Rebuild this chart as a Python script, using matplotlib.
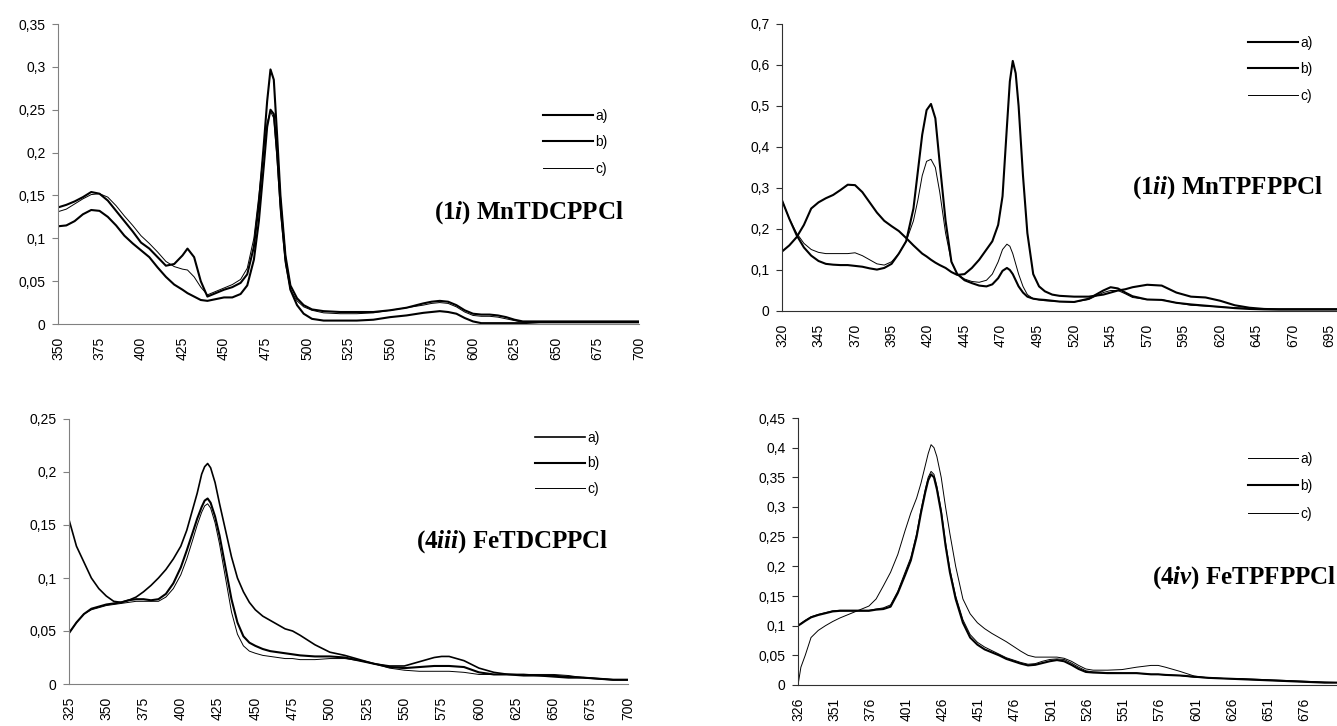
import matplotlib
matplotlib.use("Agg")
import matplotlib.pyplot as plt
from matplotlib.lines import Line2D

plt.rcParams["font.family"] = ["Liberation Sans", "DejaVu Sans"]
plt.rcParams["mathtext.fontset"] = "custom"
plt.rcParams["mathtext.rm"] = "Liberation Serif:bold"
plt.rcParams["mathtext.it"] = "Liberation Serif:italic:bold"

W, H = 1337, 726

# ---- panel 1: (1i) MnTDCPPCl ----
p1_nm = [350, 355, 360, 365, 370, 375, 380, 385, 390, 395, 400, 405, 410, 415, 420, 425,
         428, 432, 436, 440, 445, 450, 455, 460,
         464, 468, 471, 474, 476, 478, 480, 482, 484, 487, 490, 494, 498, 503,
         510, 520, 530, 540, 550, 560, 570,
         575, 580, 585, 590, 595, 600, 605, 610, 615, 620, 625, 630,
         640, 650, 660, 670, 680, 690, 700]
p1_a = [0.136, 0.139, 0.143, 0.148, 0.154, 0.152, 0.144, 0.132, 0.12, 0.108, 0.095, 0.088, 0.078, 0.068, 0.07, 0.08,
        0.088, 0.078, 0.05, 0.032, 0.036, 0.04, 0.043, 0.048,
        0.058, 0.09, 0.14, 0.21, 0.26, 0.297, 0.285, 0.22, 0.15, 0.08, 0.045, 0.03, 0.022, 0.017,
        0.015, 0.014, 0.014, 0.014, 0.016, 0.019, 0.024,
        0.026, 0.027, 0.026, 0.022, 0.016, 0.012, 0.011, 0.011, 0.01, 0.008, 0.005, 0.003,
        0.003, 0.003, 0.003, 0.003, 0.003, 0.003, 0.003]
p1_b = [0.114, 0.115, 0.12, 0.128, 0.133, 0.132, 0.125, 0.115, 0.103, 0.094, 0.086, 0.078, 0.066, 0.055, 0.046, 0.04,
        0.036, 0.032, 0.028, 0.027, 0.029, 0.031, 0.031, 0.035,
        0.045, 0.075, 0.12, 0.185, 0.23, 0.25, 0.245, 0.2, 0.14, 0.075, 0.04, 0.022, 0.012, 0.006,
        0.004, 0.004, 0.004, 0.005, 0.008, 0.01, 0.013,
        0.014, 0.015, 0.014, 0.012, 0.007, 0.003, 0.001, 0.001, 0.001, 0.001, 0.001, 0.001,
        0.002, 0.002, 0.002, 0.002, 0.002, 0.002, 0.002]
p1_c = [0.131, 0.134, 0.14, 0.146, 0.151, 0.152, 0.148, 0.138, 0.126, 0.115, 0.103, 0.094, 0.084, 0.073, 0.067, 0.064,
        0.063, 0.055, 0.043, 0.034, 0.038, 0.042, 0.046, 0.052,
        0.065, 0.1, 0.15, 0.205, 0.235, 0.248, 0.24, 0.19, 0.13, 0.07, 0.04, 0.027, 0.02, 0.016,
        0.013, 0.012, 0.012, 0.013, 0.016, 0.019, 0.022,
        0.024, 0.025, 0.024, 0.02, 0.014, 0.01, 0.009, 0.009, 0.008, 0.006, 0.004, 0.002,
        0.002, 0.002, 0.002, 0.002, 0.002, 0.002, 0.002]
p1_xticks = list(range(350, 701, 25))
p1_yticks = [0, 0.05, 0.1, 0.15, 0.2, 0.25, 0.3, 0.35]
p1_ylabels = ["0", "0,05", "0,1", "0,15", "0,2", "0,25", "0,3", "0,35"]

# ---- panel 2: (1ii) MnTPFPPCl ----
p2_nm = [320, 325, 330, 335, 340, 345, 350, 355, 360, 365, 370, 375, 380, 385, 390, 395, 400, 405, 410,
         413, 416, 419, 422, 425, 428, 432, 436, 440, 445, 450, 455, 460,
         464, 468, 471, 474, 476, 478, 480, 482, 485, 488, 492, 496, 500, 505,
         510, 520, 530, 540, 545, 550, 555, 560,
         570, 580, 590, 600, 610, 620, 630, 640, 650, 660, 680, 700]
p2_a = [0.145, 0.16, 0.18, 0.21, 0.25, 0.265, 0.275, 0.283, 0.295, 0.308, 0.307, 0.29, 0.265, 0.24, 0.22, 0.207, 0.195, 0.178, 0.16,
        0.15, 0.14, 0.133, 0.125, 0.118, 0.112, 0.105, 0.095, 0.088, 0.09, 0.105, 0.125, 0.15,
        0.17, 0.21, 0.28, 0.45, 0.56, 0.61, 0.58, 0.5, 0.33, 0.19, 0.09, 0.06, 0.048, 0.04,
        0.037, 0.035, 0.035, 0.04, 0.045, 0.05, 0.053, 0.058,
        0.064, 0.062, 0.045, 0.035, 0.033, 0.025, 0.014, 0.008, 0.005, 0.004, 0.004, 0.004]
p2_b = [0.27, 0.225, 0.185, 0.155, 0.135, 0.122, 0.115, 0.113, 0.112, 0.112, 0.11, 0.108, 0.104, 0.101, 0.105, 0.115, 0.14, 0.17, 0.25,
        0.34, 0.43, 0.49, 0.505, 0.47, 0.36, 0.22, 0.12, 0.09, 0.075, 0.068, 0.062, 0.06,
        0.065, 0.08, 0.098, 0.105, 0.1, 0.09, 0.075, 0.06, 0.045, 0.035, 0.03, 0.028, 0.027, 0.025,
        0.023, 0.022, 0.03, 0.05, 0.058, 0.055, 0.045, 0.036,
        0.028, 0.027, 0.02, 0.016, 0.013, 0.01, 0.007, 0.005, 0.004, 0.004, 0.004, 0.004]
p2_c = [0.27, 0.225, 0.19, 0.165, 0.15, 0.143, 0.14, 0.14, 0.14, 0.14, 0.142, 0.135, 0.125, 0.115, 0.112, 0.12, 0.14, 0.17, 0.22,
        0.27, 0.33, 0.365, 0.37, 0.35, 0.29, 0.19, 0.12, 0.09, 0.078, 0.072, 0.07, 0.075,
        0.09, 0.12, 0.15, 0.163, 0.158, 0.14, 0.115, 0.09, 0.06, 0.04, 0.03, 0.027, 0.025, 0.024,
        0.023, 0.022, 0.028, 0.045, 0.05, 0.05, 0.042, 0.033,
        0.028, 0.028, 0.02, 0.014, 0.012, 0.01, 0.008, 0.006, 0.005, 0.004, 0.004, 0.004]
p2_xticks = list(range(320, 696, 25))
p2_yticks = [0, 0.1, 0.2, 0.3, 0.4, 0.5, 0.6, 0.7]
p2_ylabels = ["0", "0,1", "0,2", "0,3", "0,4", "0,5", "0,6", "0,7"]

# ---- panel 3: (4iii) FeTDCPPCl ----
p3_nm = [325, 330, 335, 340, 345, 350, 355, 360, 365, 370, 375, 380, 385, 390, 395, 400,
         404, 408, 411, 414, 416, 418, 420, 423, 426, 430, 434, 438, 442, 446,
         450, 455, 460, 465, 470, 475, 480,
         490, 500, 510, 520, 530, 540, 550, 560, 570, 575,
         580, 590, 600, 610, 620, 630, 640, 650, 660, 670, 680, 690, 700]
p3_a = [0.155, 0.13, 0.115, 0.1, 0.09, 0.083, 0.078, 0.077, 0.079, 0.082, 0.087, 0.093, 0.1, 0.108, 0.118, 0.13,
        0.145, 0.165, 0.18, 0.198, 0.205, 0.208, 0.204, 0.19, 0.17, 0.145, 0.12, 0.1, 0.087, 0.077,
        0.07, 0.064, 0.06, 0.056, 0.052, 0.05, 0.046,
        0.037, 0.03, 0.027, 0.023, 0.019, 0.017, 0.017, 0.021, 0.025, 0.026,
        0.026, 0.022, 0.015, 0.011, 0.009, 0.009, 0.008, 0.008, 0.007, 0.006, 0.005, 0.004, 0.004]
p3_b = [0.048, 0.058, 0.066, 0.071, 0.073, 0.075, 0.076, 0.077, 0.079, 0.08, 0.08, 0.079, 0.08, 0.085, 0.095, 0.11,
        0.126, 0.143, 0.156, 0.167, 0.173, 0.175, 0.171, 0.158, 0.14, 0.11, 0.08, 0.058, 0.045, 0.039,
        0.036, 0.033, 0.031, 0.03, 0.029, 0.028, 0.027,
        0.026, 0.026, 0.025, 0.022, 0.019, 0.016, 0.015, 0.016, 0.017, 0.017,
        0.017, 0.016, 0.011, 0.009, 0.009, 0.008, 0.008, 0.007, 0.006, 0.006, 0.005, 0.004, 0.004]
p3_c = [0.048, 0.058, 0.066, 0.07, 0.072, 0.074, 0.075, 0.076, 0.077, 0.078, 0.078, 0.078, 0.078, 0.082, 0.09, 0.103,
        0.118, 0.136, 0.15, 0.162, 0.168, 0.17, 0.166, 0.152, 0.132, 0.1, 0.068, 0.047, 0.036, 0.031,
        0.029, 0.027, 0.026, 0.025, 0.024, 0.024, 0.023,
        0.023, 0.024, 0.024, 0.022, 0.019, 0.015, 0.013, 0.012, 0.012, 0.012,
        0.012, 0.011, 0.009, 0.009, 0.009, 0.009, 0.009, 0.009, 0.008, 0.006, 0.005, 0.004, 0.004]
p3_xticks = list(range(325, 701, 25))
p3_yticks = [0, 0.05, 0.1, 0.15, 0.2, 0.25]
p3_ylabels = ["0", "0,05", "0,1", "0,15", "0,2", "0,25"]

# ---- panel 4: (4iv) FeTPFPPCl ----
p4_nm = [326, 328, 331, 335, 340, 345, 350, 355, 360, 365, 370, 375, 380, 385, 390, 395, 400,
         404, 408, 411, 414, 416, 418, 420, 422, 425, 428, 431, 435,
         440, 445, 450, 455, 460, 465, 470, 475, 480, 485, 490, 495, 500, 505, 510, 515, 520, 525, 530,
         540, 550, 560, 570, 575,
         580, 590, 600, 610, 620, 630, 640, 650, 660, 670, 680, 690, 700]
p4_a = [0.0, 0.03, 0.05, 0.08, 0.092, 0.1, 0.107, 0.113, 0.118, 0.123, 0.128, 0.133, 0.145, 0.167, 0.19, 0.22, 0.26,
        0.29, 0.315, 0.34, 0.37, 0.39, 0.405, 0.4, 0.385, 0.35, 0.3, 0.255, 0.2,
        0.145, 0.12, 0.105, 0.095, 0.087, 0.08, 0.073, 0.065, 0.057, 0.05, 0.047, 0.047, 0.047, 0.047, 0.045, 0.04, 0.033, 0.027, 0.025,
        0.025, 0.026, 0.03, 0.033, 0.033,
        0.03, 0.023, 0.015, 0.012, 0.011, 0.011, 0.01, 0.009, 0.008, 0.007, 0.006, 0.005, 0.004]
p4_b = [0.1, 0.103, 0.108, 0.114, 0.118, 0.121, 0.124, 0.125, 0.125, 0.125, 0.125, 0.125, 0.127, 0.128, 0.132, 0.155, 0.185,
        0.21, 0.25, 0.29, 0.325, 0.345, 0.355, 0.35, 0.33, 0.29, 0.235, 0.19, 0.145,
        0.105, 0.08, 0.068, 0.06, 0.055, 0.05, 0.044, 0.04, 0.036, 0.033, 0.034, 0.037, 0.04, 0.042, 0.04, 0.034, 0.027, 0.022, 0.021,
        0.02, 0.02, 0.02, 0.018, 0.018,
        0.017, 0.016, 0.014, 0.012, 0.011, 0.01, 0.009, 0.008, 0.007, 0.006, 0.005, 0.004, 0.004]
p4_c = [0.1, 0.104, 0.109, 0.115, 0.119, 0.122, 0.125, 0.126, 0.126, 0.126, 0.126, 0.126, 0.128, 0.13, 0.135, 0.158, 0.19,
        0.215, 0.255, 0.295, 0.33, 0.35, 0.36, 0.355, 0.335, 0.295, 0.24, 0.195, 0.15,
        0.11, 0.085, 0.072, 0.064, 0.058, 0.052, 0.046, 0.042, 0.038, 0.035, 0.036, 0.04, 0.043, 0.044, 0.043, 0.037, 0.03, 0.024, 0.022,
        0.021, 0.02, 0.02, 0.018, 0.018,
        0.017, 0.016, 0.013, 0.012, 0.011, 0.01, 0.009, 0.008, 0.007, 0.006, 0.005, 0.004, 0.004]
p4_xticks = list(range(326, 677, 25))
p4_yticks = [0, 0.05, 0.1, 0.15, 0.2, 0.25, 0.3, 0.35, 0.4, 0.45]
p4_ylabels = ["0", "0,05", "0,1", "0,15", "0,2", "0,25", "0,3", "0,35", "0,4", "0,45"]

legend_labels = ["a)", "b)", "c)"]

THICK = 1.5
THIN = 0.7


def box(left, right, top, bottom):
    """pixel box -> figure fraction rect"""
    return [left / W, 1 - bottom / H, (right - left) / W, (bottom - top) / H]


def style_axes(ax, xlim, xticks, ylim, yticks, ylabels, spine_color):
    ax.set_xlim(xlim)
    ax.set_ylim(ylim)
    ax.set_xticks(xticks)
    ax.set_xticklabels([str(t) for t in xticks], rotation=90)
    ax.set_yticks(yticks)
    ax.set_yticklabels(ylabels)
    for side in ("top", "right"):
        ax.spines[side].set_visible(False)
    for side in ("left", "bottom"):
        ax.spines[side].set_color(spine_color)
        ax.spines[side].set_linewidth(0.8)
    ax.tick_params(axis="x", length=0, pad=9, labelsize=10)
    ax.tick_params(axis="y", length=4, width=0.8, pad=5, labelsize=10,
                   color=spine_color, direction="out")


def add_legend(ax, widths, x_px, y_px, spacing):
    handles = [Line2D([], [], color="black", lw=w) for w in widths]
    ax.legend(handles, legend_labels, loc="upper left", frameon=False,
              bbox_to_anchor=(x_px / W, 1 - (y_px - 8) / H),
              bbox_transform=ax.figure.transFigure,
              borderpad=0, borderaxespad=0, handlelength=3.6,
              handletextpad=0.15, labelspacing=spacing, fontsize=10)


def add_title(ax, text, x, y):
    ax.text(x, y, text, transform=ax.transAxes, family="Liberation Serif",
            weight="bold", fontsize=18, ha="left", va="center", clip_on=False)


fig = plt.figure(figsize=(W / 100, H / 100), dpi=100)

# panel 1
ax1 = fig.add_axes(box(58, 639, 24, 324))
w1 = [THICK, THICK, THIN]
for ys, w in zip([p1_a, p1_b, p1_c], w1):
    ax1.plot(p1_nm, ys, color="black", lw=w)
style_axes(ax1, (350, 700), p1_xticks, (0, 0.35), p1_yticks, p1_ylabels, "#808080")
add_legend(ax1, w1, 543, 117, 0.89)
add_title(ax1, r"(1$\mathit{i}$) MnTDCPPCl", 0.647, 0.37)

# panel 2
ax2 = fig.add_axes(box(782, 1337, 24, 311))
w2 = [THICK, THICK, THIN]
for ys, w in zip([p2_a, p2_b, p2_c], w2):
    ax2.plot(p2_nm, ys, color="black", lw=w)
style_axes(ax2, (320, 700), p2_xticks, (0, 0.7), p2_yticks, p2_ylabels, "#303030")
add_legend(ax2, w2, 1248, 44, 0.89)
add_title(ax2, r"(1$\mathit{ii}$) MnTPFPPCl", 0.631, 0.429)

# panel 3
ax3 = fig.add_axes(box(69, 628, 419, 684))
w3 = [1.2, THICK, THIN]
for ys, w in zip([p3_a, p3_b, p3_c], w3):
    ax3.plot(p3_nm, ys, color="black", lw=w)
style_axes(ax3, (325, 700), p3_xticks, (0, 0.25), p3_yticks, p3_ylabels, "#808080")
add_legend(ax3, w3, 535, 439, 0.82)
add_title(ax3, r"(4$\mathit{iii}$) FeTDCPPCl", 0.621, 0.536)

# panel 4
ax4 = fig.add_axes(box(798, 1339, 418, 685))
w4 = [THIN, THICK, THIN]
for ys, w in zip([p4_a, p4_b, p4_c], w4):
    ax4.plot(p4_nm, ys, color="black", lw=w)
style_axes(ax4, (326, 700), p4_xticks, (0, 0.45), p4_yticks, p4_ylabels, "#303030")
add_legend(ax4, w4, 1248, 460, 0.96)
add_title(ax4, r"(4$\mathit{iv}$) FeTPFPPCl", 0.654, 0.404)

fig.savefig("out.png", dpi=100)
